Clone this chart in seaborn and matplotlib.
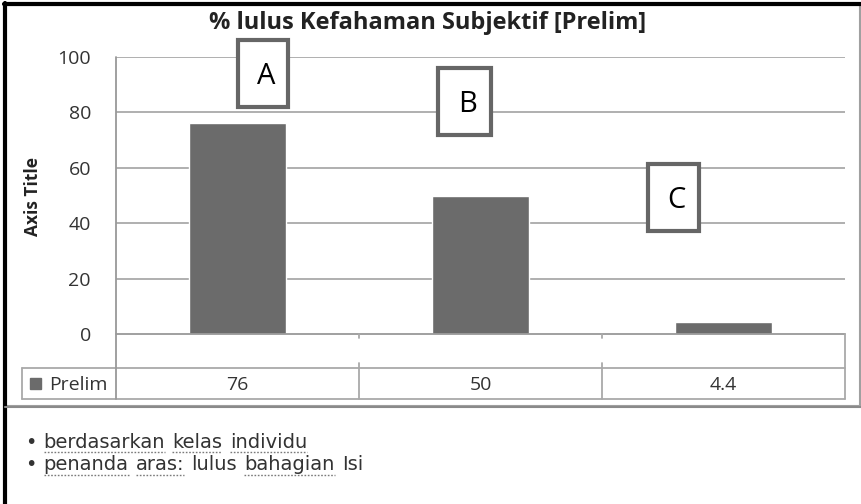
import matplotlib
matplotlib.use("Agg")
import matplotlib.pyplot as plt
import matplotlib.transforms as mtransforms
from matplotlib.patches import Rectangle
import pandas as pd
import seaborn as sns

# data
categories = ["A", "B", "C"]
prelim = [76, 50, 4.4]
value_labels = ["76", "50", "4.4"]
y_ticks = [0, 20, 40, 60, 80, 100]
series_name = "Prelim"
title = "% lulus Kefahaman Subjektif [Prelim]"
notes = [
    [("•", False), ("berdasarkan", True), ("kelas", True), ("individu", True)],
    [("•", False), ("penanda", True), ("aras:", True), ("lulus", False), ("bahagian", True), ("Isi", False)],
]

W, H = 862, 504
BAR = "#6b6b6b"
GRID = "#a9a9a9"
TXT = "#333333"
CHART_FONT = ["Open Sans", "DejaVu Sans"]

sns.set_style("white")
plt.rcParams["font.family"] = CHART_FONT

fig = plt.figure(figsize=(W / 100, H / 100), dpi=100)


def fx(px):
    return px / W


def fy(py):
    return 1 - py / H


def hline(y, x0, x1, color=GRID, lw=1.3, ls="-"):
    ln = plt.Line2D([fx(x0), fx(x1)], [fy(y), fy(y)], color=color, lw=lw, ls=ls)
    fig.add_artist(ln)
    return ln


def vline(x, y0, y1, color=GRID, lw=1.3):
    ln = plt.Line2D([fx(x), fx(x)], [fy(y0), fy(y1)], color=color, lw=lw)
    fig.add_artist(ln)
    return ln


# plot area
ax = fig.add_axes([fx(116), fy(334), fx(845) - fx(116), fy(57) - fy(334)])
df = pd.DataFrame({"cat": categories, "val": prelim})
sns.barplot(data=df, x="cat", y="val", color=BAR, width=0.4, saturation=1, ax=ax, zorder=3)
ax.set_xlim(-0.5, 2.5)
ax.set_ylim(0, 100)
ax.set_yticks(y_ticks)
ax.set_yticklabels([str(t) for t in y_ticks], fontsize=14, color=TXT)
ax.tick_params(axis="y", length=0, pad=18)
ax.set_xticks([])
ax.set_xlabel("")
ax.set_ylabel("")
for t in y_ticks[1:]:
    ax.axhline(t, color=GRID, lw=1.3, zorder=1)
for s in ax.spines.values():
    s.set_visible(False)

# outer chart border and frame
fig.add_artist(Rectangle((fx(5), fy(406)), fx(860) - fx(5), fy(5) - fy(406),
                         transform=fig.transFigure, fill=False, ec="#a0a0a0", lw=1.5))
vline(5, 3, 504, color="black", lw=3)
hline(4, 4, 862, color="black", lw=3)
hline(407, 5, 862, color="#8a8a8a", lw=1.5)

# title and axis title
fig.text(fx(428), fy(23), title, ha="center", va="center", fontsize=17,
         fontweight="bold", color="#222222")
fig.text(fx(33), fy(197), "Axis Title", rotation=90, ha="center", va="center",
         fontsize=12.5, fontweight="bold", color="#222222")

# data table below the axis
hline(334, 116, 845, color="#999999")
hline(368, 22, 845)
hline(399, 22, 845)
vline(22, 368, 399)
vline(116, 57, 399, color="#999999")
vline(845, 334, 399)
blend = mtransforms.blended_transform_factory(ax.transData, fig.transFigure)
for b in [0.5, 1.5]:
    fig.add_artist(plt.Line2D([b, b], [fy(363), fy(399)], color=GRID, lw=1.3, transform=blend))
    fig.add_artist(plt.Line2D([b, b], [fy(334), fy(338)], color=GRID, lw=1.3, transform=blend))
for i, lab in enumerate(value_labels):
    fig.text(i, fy(385), lab, transform=blend, ha="center", va="center", fontsize=14, color=TXT)
fig.add_artist(Rectangle((fx(30), fy(389)), fx(41) - fx(30), fy(378) - fy(389),
                         transform=fig.transFigure, color=BAR))
fig.text(fx(49), fy(385), series_name, ha="left", va="center", fontsize=14, color=TXT)

# letter boxes
boxes = [("A", 238, 40, 288, 107), ("B", 438, 68, 491, 135), ("C", 648, 164, 699, 231)]
for lab, x0, y0, x1, y1 in boxes:
    fig.add_artist(Rectangle((fx(x0), fy(y1)), fx(x1) - fx(x0), fy(y0) - fy(y1),
                             transform=fig.transFigure, fc="white", ec="#666666", lw=3, zorder=5))
    fig.text(fx((x0 + x1) / 2 + 3), fy((y0 + y1) / 2 + 3), lab, ha="center", va="center",
             fontsize=21, color="black", zorder=6)

# notes with spell-check style underlines
fig.canvas.draw()
renderer = fig.canvas.get_renderer()
note_kw = dict(fontsize=14, color=TXT, family=["DejaVu Sans"])


def text_w(s):
    t = fig.text(0, 0, s, **note_kw)
    w = t.get_window_extent(renderer).width
    t.remove()
    return w


space_w = text_w("a a") - text_w("aa") + 1
for row, y in zip(notes, [442, 465]):
    x = 25
    for word, under in row:
        fig.text(fx(x), fy(y), word, ha="left", va="center", **note_kw)
        w = text_w(word)
        if under:
            hline(y + 10, x, x + w, color="#7a7a7a", lw=1.0, ls=(0, (1.2, 1.2)))
        x += w + space_w

fig.savefig("out.png", dpi=100)
